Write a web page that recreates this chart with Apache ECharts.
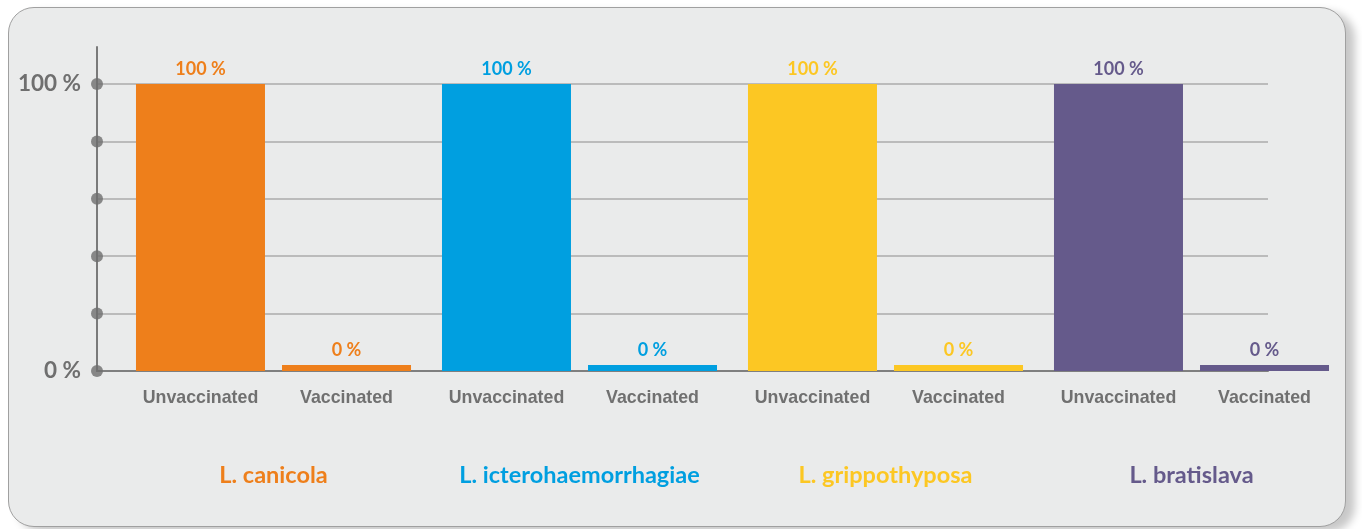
<!DOCTYPE html>
<html>
<head>
<meta charset="utf-8">
<script src="https://cdn.jsdelivr.net/npm/echarts@6/dist/echarts.min.js"></script>
<style>
  html, body { margin: 0; padding: 0; background: #ffffff; }
  #frame {
    position: absolute; left: 8px; top: 7px; width: 1336px; height: 518px;
    background: #eaebeb; border: 1.5px solid #a0a0a0; border-radius: 26px;
    box-shadow: 9px 5px 9px rgba(0,0,0,0.22);
  }
  #main { position: absolute; left: 0; top: 0; width: 1362px; height: 529px; }
</style>
</head>
<body>
<div id="frame"></div>
<div id="main"></div>
<script>
// groups (strains) and their colours
var groups = ["L. canicola", "L. icterohaemorrhagiae", "L. grippothyposa", "L. bratislava"];
var groupColors = ["#ee7f1b", "#009fe0", "#fcc723", "#655a8b"];
// % of dogs affected
var unvaccinated = [100, 100, 100, 100];
var vaccinated = [0, 0, 0, 0];
// y ticks
var yTicks = [0, 20, 40, 60, 80, 100];

var myChart = echarts.init(document.getElementById("main"));

function colored(values) {
  return values.map(function (v, i) {
    return { value: v, itemStyle: { color: groupColors[i] }, label: { color: groupColors[i] } };
  });
}

function nameLabel(name, stack) {
  return {
    name: name + "-label", type: "bar", stack: stack, xAxisIndex: 2, yAxisIndex: 2,
    barWidth: 129, barGap: "13.2%",
    data: groups.map(function () { return 0; }),
    itemStyle: { color: "rgba(0,0,0,0)" },
    silent: true,
    label: {
      show: true, position: "bottom", distance: 18,
      formatter: name,
      fontFamily: "Liberation Sans", fontWeight: "bold", fontSize: 17.8, color: "#707070"
    }
  };
}

var valueLabel = {
  show: true, position: "top", distance: 6,
  formatter: "{c} %",
  fontFamily: "Lato", fontWeight: "bold", fontSize: 18
};

myChart.setOption({
  animation: false,
  grid: [
    // gridlines + y axis
    { left: 97, right: 94, top: 84, bottom: 158 },
    // stub of y axis above 100 %
    { left: 97, right: 94, top: 47, height: 37 },
    // bars
    { left: 120.5, width: 1224, top: 84, bottom: 158 }
  ],
  xAxis: [
    {
      gridIndex: 0, type: "value", min: 0, max: 1,
      axisLine: { show: true, lineStyle: { color: "#7f7f7f", width: 2 } },
      axisTick: { show: false }, axisLabel: { show: false }, splitLine: { show: false }
    },
    { gridIndex: 1, type: "value", show: false },
    {
      gridIndex: 2, type: "category", data: groups,
      axisLine: { show: false }, axisTick: { show: false },
      axisLabel: {
        interval: 0, hideOverlap: false,
        margin: 92, fontFamily: "Lato", fontWeight: "bold", fontSize: 23.5,
        color: function (value, index) { return groupColors[index]; }
      }
    }
  ],
  yAxis: [
    {
      gridIndex: 0, type: "value", min: 0, max: 100, interval: 20,
      axisLine: { show: true, lineStyle: { color: "#7a7a7a", width: 2 } },
      axisTick: { show: false },
      splitLine: { show: true, lineStyle: { color: "#ababab", width: 1.5 } },
      axisLabel: {
        margin: 16, fontFamily: "Lato", fontWeight: "bold", fontSize: 22.5, color: "#6f6f6f",
        padding: [5, 0, 0, 0],
        formatter: function (v) { return (v === 0 || v === 100) ? v + " %" : ""; }
      }
    },
    {
      gridIndex: 1, type: "value", min: 0, max: 1,
      axisLine: { show: true, lineStyle: { color: "#7a7a7a", width: 2 } },
      axisTick: { show: false }, axisLabel: { show: false }, splitLine: { show: false }
    },
    { gridIndex: 2, type: "value", min: 0, max: 100, show: false }
  ],
  series: [
    {
      name: "ticks", type: "scatter", xAxisIndex: 0, yAxisIndex: 0,
      data: yTicks.map(function (t) { return [0, t]; }),
      symbolSize: 12, itemStyle: { color: "#6e6e6e" }, clip: false, z: 5, silent: true
    },
    nameLabel("Unvaccinated", "u"),
    {
      name: "Unvaccinated", type: "bar", stack: "u", xAxisIndex: 2, yAxisIndex: 2,
      barWidth: 129, barGap: "13.2%",
      data: colored(unvaccinated), label: valueLabel
    },
    nameLabel("Vaccinated", "v"),
    {
      name: "Vaccinated", type: "bar", stack: "v", xAxisIndex: 2, yAxisIndex: 2,
      barWidth: 129, barGap: "13.2%", barMinHeight: 6,
      data: colored(vaccinated), label: valueLabel
    }
  ]
});
</script>
</body>
</html>
